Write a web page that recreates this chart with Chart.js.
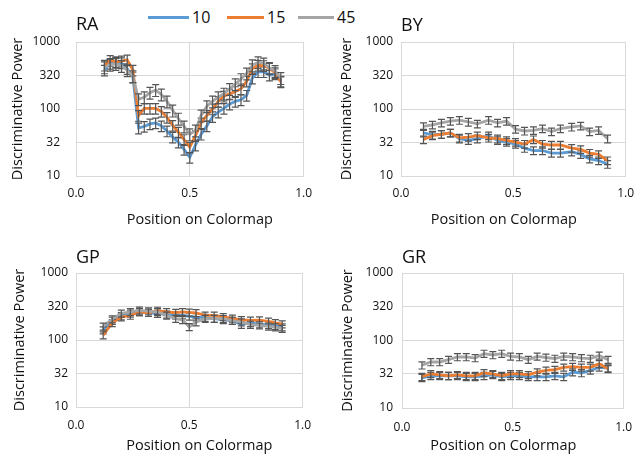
<!DOCTYPE html>
<html>
<head>
<meta charset="utf-8">
<script src="https://cdn.jsdelivr.net/npm/chart.js@4.4.0/dist/chart.umd.min.js"></script>
<style>
body { margin: 0; background: #fff; width: 644px; height: 463px; position: relative; overflow: hidden; font-family: 'Open Sans', sans-serif; }
.panel { position: absolute; }
.lg-line { position: absolute; height: 3px; top: 16px; }
.lg-text { position: absolute; top: 6px; font-size: 16px; color: #111; line-height: 22px; }
</style>
</head>
<body>
<div id="legend"></div>
<div class="panel" style="left:0;top:0"><canvas id="ra" width="322" height="232"></canvas></div>
<div class="panel" style="left:322px;top:0"><canvas id="by" width="322" height="232"></canvas></div>
<div class="panel" style="left:0;top:232px"><canvas id="gp" width="322" height="231"></canvas></div>
<div class="panel" style="left:322px;top:232px"><canvas id="gr" width="322" height="231"></canvas></div>
<script>
// 시리즈 이름 / 색
var seriesNames = ['10', '15', '45'];
var seriesColors = ['#5B9BD5', '#ED7D31', '#A5A5A5'];

// 축 눈금
var yTicks = [10, 32, 100, 320, 1000];
var yTickLabels = ['10', '32', '100', '320', '1000'];
var xTicks = [0, 0.5, 1];
var xTickLabels = ['0.0', '0.5', '1.0'];

// RA
var raX = [0.125, 0.15, 0.175, 0.2, 0.225, 0.25, 0.275, 0.3, 0.325, 0.35, 0.375, 0.4, 0.425, 0.45, 0.475, 0.5,
	0.525, 0.55, 0.575, 0.6, 0.625, 0.65, 0.675, 0.7, 0.725, 0.75, 0.775, 0.8, 0.825, 0.85, 0.875, 0.9];
var raBlue = [380, 480, 495, 490, 400, 300, 52, 55, 60, 62, 56, 47, 38, 32, 25, 19,
	29, 42, 56, 77, 90, 102, 118, 130, 137, 160, 290, 360, 360, 320, 335, 260];
var raOrange = [450, 530, 510, 520, 540, 380, 80, 102, 102, 102, 92, 75, 57, 45, 35, 27,
	40, 62, 80, 100, 130, 155, 168, 182, 200, 260, 400, 450, 445, 405, 350, 255];
var raGray = [420, 460, 470, 440, 380, 310, 140, 150, 175, 192, 165, 130, 95, 72, 55, 42,
	48, 80, 110, 130, 150, 170, 200, 235, 280, 340, 450, 500, 480, 410, 370, 290];
var raErr = [0.18, 0.18, 0.2];

// BY
var byX = [0.10, 0.14, 0.18, 0.22, 0.26, 0.30, 0.34, 0.39, 0.43, 0.47, 0.51, 0.55, 0.59, 0.63, 0.67, 0.71, 0.76, 0.80, 0.84, 0.88, 0.92];
var byBlue = [44, 41, 42, 44, 36, 34, 36, 40, 34, 32, 30, 26, 24, 24, 22, 22, 23, 21, 18, 17, 15];
var byOrange = [35, 40, 42, 44, 37, 38, 40, 37, 36, 34, 32, 30, 35, 30, 29, 29, 26, 25, 22, 21, 17];
var byGray = [55, 58, 62, 66, 68, 64, 60, 68, 62, 66, 50, 47, 48, 51, 46, 51, 54, 56, 46, 48, 36];
var byErr = [0.13, 0.13, 0.13];

// GP
var gpX = [0.12, 0.16, 0.20, 0.24, 0.28, 0.32, 0.36, 0.40, 0.44, 0.47, 0.50, 0.53, 0.57, 0.61, 0.65, 0.69, 0.73, 0.77, 0.81, 0.85, 0.88, 0.91];
var gpBlue = [140, 195, 228, 250, 262, 255, 248, 241, 233, 235, 225, 220, 215, 208, 200, 195, 170, 180, 173, 168, 162, 155];
var gpOrange = [118, 180, 220, 232, 262, 255, 275, 262, 255, 262, 258, 253, 233, 233, 222, 210, 200, 196, 198, 190, 180, 172];
var gpGray = [160, 205, 250, 262, 277, 270, 262, 233, 208, 200, 157, 185, 208, 208, 208, 195, 185, 170, 166, 160, 155, 148];
var gpErr = [0.12, 0.12, 0.12];

// GR
var grX = [0.09, 0.13, 0.17, 0.21, 0.25, 0.29, 0.33, 0.37, 0.41, 0.45, 0.49, 0.53, 0.57, 0.61, 0.65, 0.69, 0.73, 0.77, 0.81, 0.85, 0.89, 0.93];
var grBlue = [28, 30, 30, 30, 30, 29, 29, 30, 31, 29, 30, 30, 29, 29, 29, 30, 29, 34, 33, 36, 40, 39];
var grOrange = [29, 32, 31, 30, 31, 30, 30, 33, 32, 30, 32, 32, 31, 34, 36, 37, 40, 41, 40, 40, 45, 38];
var grGray = [43, 48, 48, 52, 57, 57, 55, 64, 61, 64, 58, 57, 52, 58, 56, 54, 58, 57, 55, 54, 60, 52];
var grErr = [0.12, 0.12, 0.12];

var textColor = '#111';
var gridColor = '#D9D9D9';

// 범례 (HTML)
var legendPos = [[148, 192], [227, 267], [298, 337]];
var legend = document.getElementById('legend');
seriesNames.forEach(function(name, i) {
	var line = document.createElement('div');
	line.className = 'lg-line';
	line.style.left = legendPos[i][0] + 'px';
	line.style.width = (legendPos[i][1] - legendPos[i][0] - 3) + 'px';
	line.style.background = seriesColors[i];
	legend.appendChild(line);
	var t = document.createElement('span');
	t.className = 'lg-text';
	t.style.left = legendPos[i][1] + 'px';
	t.textContent = name;
	legend.appendChild(t);
});

// 오차 막대
var errorBars = {
	id: 'errorBars',
	afterDatasetDraw: function(chart, args) {
		var ds = chart.data.datasets[args.index];
		var pts = args.meta.data;
		var ys = chart.scales.y;
		var ctx = chart.ctx;
		ctx.save();
		ctx.strokeStyle = '#555';
		ctx.lineWidth = 1.2;
		ds.data.forEach(function(p, i) {
			var e = p.y * ds.errRel;
			var x = pts[i].x;
			var top = ys.getPixelForValue(p.y + e);
			var bot = ys.getPixelForValue(p.y - e);
			ctx.beginPath();
			ctx.moveTo(x, top); ctx.lineTo(x, bot);
			ctx.moveTo(x - 3.5, top); ctx.lineTo(x + 3.5, top);
			ctx.moveTo(x - 3.5, bot); ctx.lineTo(x + 3.5, bot);
			ctx.stroke();
		});
		ctx.restore();
	}
};

// x축 제목 (중심에서 조금 벗어나 있음)
var xTitle = {
	id: 'xTitle',
	afterDraw: function(chart, args, opts) {
		var a = chart.chartArea;
		var ctx = chart.ctx;
		ctx.save();
		ctx.fillStyle = textColor;
		ctx.font = '14.5px "Open Sans"';
		ctx.textAlign = 'center';
		ctx.textBaseline = 'middle';
		ctx.fillText(opts.text, (a.left + a.right) / 2 + opts.dx, opts.y);
		ctx.restore();
	}
};

function makePanel(id, title, xs, series, errs, lay) {
	var datasets = series.map(function(ys, s) {
		return {
			label: seriesNames[s],
			data: xs.map(function(x, i) { return { x: x, y: ys[i] }; }),
			borderColor: seriesColors[s],
			backgroundColor: seriesColors[s],
			borderWidth: 2.8,
			pointRadius: 0,
			tension: 0,
			errRel: errs[s],
			order: 3 - s
		};
	});
	return new Chart(document.getElementById(id), {
		type: 'line',
		data: { datasets: datasets },
		plugins: [errorBars, xTitle],
		options: {
			responsive: false,
			animation: false,
			layout: { padding: { top: 0, left: 0, right: lay.right, bottom: 0 } },
			plugins: {
				legend: { display: false },
				tooltip: { enabled: false },
				title: {
					display: true, text: title, align: 'start', fullSize: false, color: textColor,
					font: { family: 'Open Sans', size: 18, weight: 'normal' },
					padding: { top: lay.titleTop, bottom: lay.titleBottom }
				},
				xTitle: { text: 'Position on Colormap', dx: lay.xTitleDx, y: lay.xTitleY }
			},
			scales: {
				x: {
					type: 'linear', min: 0, max: 1,
					afterBuildTicks: function(s) { s.ticks = xTicks.map(function(v) { return { value: v }; }); },
					afterFit: function(s) { s.height = lay.xh; },
					grid: { color: gridColor, drawTicks: false },
					border: { color: gridColor },
					ticks: {
						padding: lay.xPad, maxRotation: 0, autoSkip: false, color: textColor,
						font: { family: 'Open Sans', size: 12 },
						callback: function(v, i) { return xTickLabels[i]; }
					}
				},
				y: {
					type: 'logarithmic', min: 10, max: 1000,
					afterBuildTicks: function(s) { s.ticks = yTicks.map(function(v) { return { value: v }; }); },
					afterFit: function(s) { s.width = lay.yw; },
					grid: { color: gridColor, drawTicks: false },
					border: { color: gridColor },
					ticks: {
						padding: lay.yPad, autoSkip: false, color: textColor,
						font: { family: 'Open Sans', size: 12 },
						callback: function(v, i) { return yTickLabels[i]; }
					},
					title: {
						display: true, text: 'Discriminative Power', color: textColor,
						font: { family: 'Open Sans', size: 14.5 },
						padding: { top: lay.yTitlePad, bottom: 0 }
					}
				}
			}
		}
	});
}

makePanel('ra', 'RA', raX, [raBlue, raOrange, raGray], raErr,
	{ right: 16, yw: 76, xh: 56, titleTop: 14.5, titleBottom: 5.9, xPad: 10, xTitleDx: 10, xTitleY: 220, yPad: 16, yTitlePad: 9 });
makePanel('by', 'BY', byX, [byBlue, byOrange, byGray], byErr,
	{ right: 10, yw: 79, xh: 56, titleTop: 15.5, titleBottom: 4.9, xPad: 10, xTitleDx: -9.5, xTitleY: 219.5, yPad: 8, yTitlePad: 16 });
makePanel('gp', 'GP', gpX, [gpBlue, gpOrange, gpGray], gpErr,
	{ right: 16, yw: 76, xh: 56, titleTop: 15.5, titleBottom: 3.9, xPad: 11, xTitleDx: 10, xTitleY: 214, yPad: 8, yTitlePad: 11 });
makePanel('gr', 'GR', grX, [grBlue, grOrange, grGray], grErr,
	{ right: 10, yw: 80, xh: 55, titleTop: 15.5, titleBottom: 3.9, xPad: 12, xTitleDx: -9.5, xTitleY: 214, yPad: 9, yTitlePad: 17 });
</script>
</body>
</html>
